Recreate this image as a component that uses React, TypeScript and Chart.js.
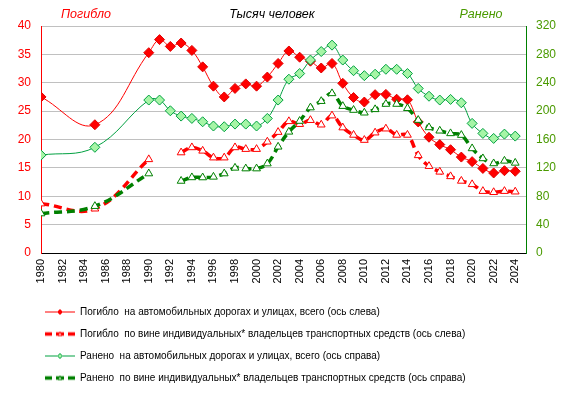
import React, { useEffect, useRef } from "react";
import { Chart, registerables } from "chart.js";

Chart.register(...registerables);

const years = [1980, 1985, 1990, 1991, 1992, 1993, 1994, 1995, 1996, 1997, 1998, 1999, 2000, 2001, 2002, 2003, 2004, 2005, 2006, 2007, 2008, 2009, 2010, 2011, 2012, 2013, 2014, 2015, 2016, 2017, 2018, 2019, 2020, 2021, 2022, 2023, 2024];

const deathsTotal = [27.5, 22.6, 35.3, 37.6, 36.4, 37.0, 35.7, 32.8, 29.4, 27.5, 29.0, 29.8, 29.4, 31.0, 33.4, 35.6, 34.5, 33.8, 32.6, 33.4, 29.9, 27.4, 26.6, 27.9, 27.95, 27.1, 27.0, 23.1, 20.4, 19.1, 18.2, 16.9, 16.1, 14.9, 14.1, 14.5, 14.4];

const deathsIndividual = [8.7, 7.8, 16.5, null, null, 17.7, 18.6, 18.0, 16.8, 16.8, 18.6, 18.3, 18.3, 19.6, 21.3, 23.2, 22.7, 23.4, 22.6, 24.2, 22.1, 20.8, 19.9, 21.2, 21.9, 20.8, 20.8, 17.2, 15.3, 14.3, 13.5, 12.7, 12.1, 10.9, 10.7, 10.9, 10.8];

const injuredTotal = [138, 149, 215.6, 215.6, 200.5, 193, 189.7, 185, 179, 178, 181.7, 181.7, 179, 189.7, 215.6, 245, 253, 272, 284, 293, 272, 257, 250, 252, 259, 259, 253, 232, 221, 215.6, 216.5, 211.8, 182.7, 168.6, 161.5, 167.6, 164.8];

const injuredIndividual = [55.6, 66, 112, null, null, 101.5, 106.5, 106.4, 107.3, 112, 120, 119, 119, 126, 149.7, 170.8, 186, 205, 214, 225, 207, 201.5, 197.7, 202.5, 210, 210, 204, 187.4, 177, 172.3, 168.6, 166.2, 147.4, 133.3, 126.2, 129.9, 127];

const seriesNames = [
  "Погибло  на автомобильных дорогах и улицах, всего (ось слева)",
  "Погибло  по вине индивидуальных* владельцев транспортных средств (ось слева)",
  "Ранено  на автомобильных дорогах и улицах, всего (ось справа)",
  "Ранено  по вине индивидуальных* владельцев транспортных средств (ось справа)",
];

const titleLeft = "Погибло";
const titleCenter = "Тысяч человек";
const titleRight = "Ранено";

const leftTicksMax = 40;
const leftStep = 5;
const rightTicksMax = 320;
const rightStep = 40;

const FONT = "'Liberation Sans', Arial, sans-serif";
const RED = "#FF0000";
const GREEN_LINE = "#00A040";
const GREEN_FILL = "#A6F5A6";
const GREEN_DARK = "#008000";
const RIGHT_TEXT = "#4A9A00";

function makeSample(kind: number): HTMLCanvasElement {
  const c = document.createElement("canvas");
  c.width = 30;
  c.height = 11;
  const ctx = c.getContext("2d")!;
  const cy = 5.5;
  if (kind === 0 || kind === 2) {
    const col = kind === 0 ? RED : GREEN_LINE;
    ctx.strokeStyle = col;
    ctx.lineWidth = 1;
    ctx.beginPath();
    ctx.moveTo(0, cy);
    ctx.lineTo(30, cy);
    ctx.stroke();
    ctx.beginPath();
    ctx.moveTo(15, cy - 2.5);
    ctx.lineTo(17.5, cy);
    ctx.lineTo(15, cy + 2.5);
    ctx.lineTo(12.5, cy);
    ctx.closePath();
    ctx.fillStyle = kind === 0 ? RED : GREEN_FILL;
    ctx.fill();
    ctx.stroke();
  } else {
    const col = kind === 1 ? RED : GREEN_DARK;
    ctx.strokeStyle = col;
    ctx.lineWidth = 3.5;
    ctx.beginPath();
    ctx.moveTo(0, cy);
    ctx.lineTo(7, cy);
    ctx.moveTo(23, cy);
    ctx.lineTo(30, cy);
    ctx.moveTo(11, cy);
    ctx.lineTo(19, cy);
    ctx.stroke();
    ctx.fillStyle = "#FFFFFF";
    ctx.lineWidth = 1;
    ctx.beginPath();
    ctx.moveTo(15, cy - 2);
    ctx.lineTo(17, cy + 1.5);
    ctx.lineTo(13, cy + 1.5);
    ctx.closePath();
    ctx.fill();
    ctx.stroke();
  }
  return c;
}

const titlePlugin = {
  id: "cornerTitles",
  afterLayout(chart: any) {
    const lg = chart.legend;
    if (lg) {
      lg.left = chart.chartArea.left - 8;
    }
  },
  afterDraw(chart: any) {
    const ctx = chart.ctx;
    const area = chart.chartArea;
    ctx.save();
    ctx.font = `italic 12.5px ${FONT}`;
    ctx.textAlign = "center";
    ctx.textBaseline = "middle";
    ctx.fillStyle = RED;
    ctx.fillText(titleLeft, area.left + 45, 15);
    ctx.fillStyle = "#000000";
    ctx.fillText(titleCenter, area.left + 231, 15);
    ctx.fillStyle = RIGHT_TEXT;
    ctx.fillText(titleRight, area.right - 45, 15);
    ctx.restore();
  },
};

export default function App() {
  const ref = useRef<HTMLCanvasElement>(null);

  useEffect(() => {
    document.body.style.margin = "0";
    const pts = (vals: (number | null)[]) => years.map((x, i) => ({ x, y: vals[i] }));
    const samples = [0, 1, 2, 3].map(makeSample);

    const chart = new Chart(ref.current!, {
      type: "line",
      data: {
        datasets: [
          {
            label: seriesNames[0],
            data: pts(deathsTotal) as any,
            yAxisID: "y",
            borderColor: RED,
            borderWidth: 1,
            pointStyle: "rectRot",
            pointRadius: 5,
            pointBackgroundColor: RED,
            pointBorderColor: "#E00000",
            pointBorderWidth: 1,
            tension: 0.4,
            order: 4,
          },
          {
            label: seriesNames[1],
            data: pts(deathsIndividual) as any,
            yAxisID: "y",
            borderColor: RED,
            borderWidth: 3.5,
            borderDash: [8, 5],
            pointStyle: "triangle",
            pointRadius: 4.5,
            pointBackgroundColor: "#FFFFFF",
            pointBorderColor: RED,
            pointBorderWidth: 1,
            tension: 0.4,
            spanGaps: false,
            order: 3,
          },
          {
            label: seriesNames[2],
            data: pts(injuredTotal) as any,
            yAxisID: "y2",
            borderColor: GREEN_LINE,
            borderWidth: 1,
            pointStyle: "rectRot",
            pointRadius: 5,
            pointBackgroundColor: GREEN_FILL,
            pointBorderColor: GREEN_LINE,
            pointBorderWidth: 1,
            tension: 0.4,
            order: 2,
          },
          {
            label: seriesNames[3],
            data: pts(injuredIndividual) as any,
            yAxisID: "y2",
            borderColor: GREEN_DARK,
            borderWidth: 3.5,
            borderDash: [8, 5],
            pointStyle: "triangle",
            pointRadius: 4.5,
            pointBackgroundColor: "#FFFFFF",
            pointBorderColor: GREEN_DARK,
            pointBorderWidth: 1,
            tension: 0.4,
            spanGaps: false,
            order: 1,
          },
        ],
      },
      options: {
        responsive: false,
        devicePixelRatio: 1,
        animation: false,
        layout: { padding: { top: 26, left: 0, right: 0, bottom: 2 } },
        plugins: {
          tooltip: { enabled: false },
          legend: {
            position: "bottom",
            align: "start",
            labels: {
              usePointStyle: true,
              pointStyleWidth: 30,
              padding: 12,
              font: { family: FONT, size: 10 },
              color: "#000000",
              generateLabels: () =>
                seriesNames.map((text, i) => ({
                  text,
                  pointStyle: samples[i] as any,
                  fillStyle: "#FFFFFF",
                  strokeStyle: "#FFFFFF",
                  lineWidth: 0,
                  hidden: false,
                  datasetIndex: i,
                  fontColor: "#000000",
                })),
            },
          },
        },
        scales: {
          x: {
            type: "linear",
            min: 1980,
            max: 2025,
            afterFit: (s: any) => {
              s.height = 42;
            },
            grid: { display: false, drawTicks: false },
            border: { display: true, color: "#000000", width: 1 },
            ticks: {
              stepSize: 2,
              includeBounds: false,
              autoSkip: false,
              maxRotation: 90,
              minRotation: 90,
              padding: 6,
              color: "#000000",
              font: { family: FONT, size: 11 },
              callback: (v: any) => String(v),
            },
          },
          y: {
            type: "linear",
            position: "left",
            min: 0,
            max: leftTicksMax,
            afterFit: (s: any) => {
              s.width = 41;
            },
            grid: { color: "#C0C0C0", lineWidth: 1, drawTicks: false },
            border: { display: true, color: RED, width: 1 },
            ticks: {
              stepSize: leftStep,
              padding: 10,
              color: RED,
              font: { family: FONT, size: 12 },
            },
          },
          y2: {
            type: "linear",
            position: "right",
            min: 0,
            max: rightTicksMax,
            afterFit: (s: any) => {
              s.width = 47;
            },
            grid: { drawOnChartArea: false, drawTicks: false },
            border: { display: true, color: GREEN_DARK, width: 1 },
            ticks: {
              stepSize: rightStep,
              padding: 10,
              color: RIGHT_TEXT,
              font: { family: FONT, size: 12 },
            },
          },
        },
      } as any,
      plugins: [titlePlugin],
    });
    return () => chart.destroy();
  }, []);

  return (
    <div style={{ width: 573, height: 395 }}>
      <canvas ref={ref} width={573} height={395} style={{ display: "block" }} />
    </div>
  );
}
